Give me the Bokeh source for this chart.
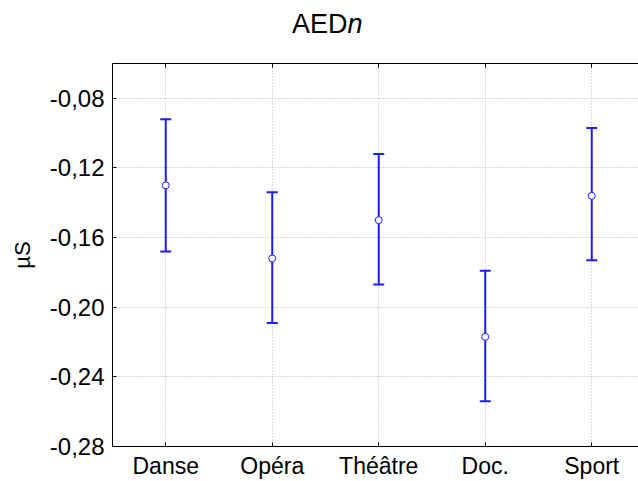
from bokeh.plotting import figure
from bokeh.models import (FixedTicker, LinearAxis, Range1d, ColumnDataSource,
                          CustomJSTickFormatter, Grid, Div)
from bokeh.layouts import column
from bokeh.embed import file_html
from bokeh.resources import INLINE

# ---- data ----
categories = ["Danse", "Opéra", "Théâtre", "Doc.", "Sport"]
means = [-0.130, -0.172, -0.150, -0.217, -0.136]
upper = [-0.092, -0.134, -0.112, -0.179, -0.097]
lower = [-0.168, -0.209, -0.187, -0.254, -0.173]
y_ticks = [-0.28, -0.24, -0.20, -0.16, -0.12, -0.08]
y_tick_labels = ["-0,28", "-0,24", "-0,20", "-0,16", "-0,12", "-0,08"]
title_main = "AED"
title_italic = "n"
y_label = "µS"

FONT = "Liberation Sans"
BLUE = "#1c1cff"
GRID = "#b4b4b4"

xpos = list(range(len(categories)))
src = ColumnDataSource(dict(x=xpos, mean=means, upper=upper, lower=lower))

TITLE_H = 48
p = figure(width=638, height=481 - TITLE_H, output_backend="svg", toolbar_location=None,
           x_range=Range1d(-0.5, 4.439), y_range=Range1d(-0.28, -0.06),
           x_axis_type=None, y_axis_type=None,
           min_border_left=112, min_border_right=0, min_border_top=63 - TITLE_H,
           min_border_bottom=33)
p.outline_line_color = None
p.background_fill_color = "white"
p.border_fill_color = "white"

# axes
xt = FixedTicker(ticks=xpos)
yt = FixedTicker(ticks=y_ticks)

bottom = LinearAxis(ticker=xt, major_label_overrides={i: c for i, c in zip(xpos, categories)})
top = LinearAxis(ticker=xt, formatter=CustomJSTickFormatter(code="return ''"))
left = LinearAxis(ticker=yt, major_label_overrides={t: l for t, l in zip(y_ticks, y_tick_labels)},
                  axis_label=y_label)

for ax in (bottom, top, left):
    ax.axis_line_color = "black"
    ax.axis_line_width = 1
    ax.major_tick_line_color = "black"
    ax.major_tick_in = 4
    ax.major_tick_out = 0
    ax.minor_tick_line_color = None
    ax.major_label_text_font = FONT
    ax.major_label_text_font_size = "24px"
    ax.major_label_text_color = "black"

bottom.major_label_standoff = 6
bottom.major_label_text_font_size = "23px"
top.major_label_standoff = 0
top.major_label_text_font_size = "1px"
left.major_label_standoff = 8
left.axis_label_text_font = FONT
left.axis_label_text_font_size = "22px"
left.axis_label_text_font_style = "normal"
left.axis_label_text_color = "black"
left.axis_label_standoff = 12

p.add_layout(bottom, "below")
p.add_layout(top, "above")
p.add_layout(left, "left")

# dotted grids
p.add_layout(Grid(dimension=0, ticker=xt, grid_line_color=GRID, grid_line_dash="1 2"))
p.add_layout(Grid(dimension=1, ticker=yt, grid_line_color=GRID, grid_line_dash="1 2"))

# error bars
p.segment(x0="x", y0="lower", x1="x", y1="upper", source=src, line_color=BLUE, line_width=2)
p.scatter(x="x", y="upper", source=src, marker="dash", size=11, line_color=BLUE, line_width=2)
p.scatter(x="x", y="lower", source=src, marker="dash", size=11, line_color=BLUE, line_width=2)
p.scatter(x="x", y="mean", source=src, marker="circle", size=7, fill_color="white",
          line_color=BLUE, line_width=1)

# title with italic n
title = Div(text=f"{title_main}<i>{title_italic}</i>", width=638, height=TITLE_H,
            styles={"font-family": FONT, "font-size": "27px", "line-height": "27px",
                    "color": "black", "padding-top": "11px", "text-indent": "292px",
                    "box-sizing": "border-box", "margin": "0", "white-space": "nowrap"})

layout = column(title, p, spacing=0)
open("out.html", "w").write(file_html(layout, INLINE))
